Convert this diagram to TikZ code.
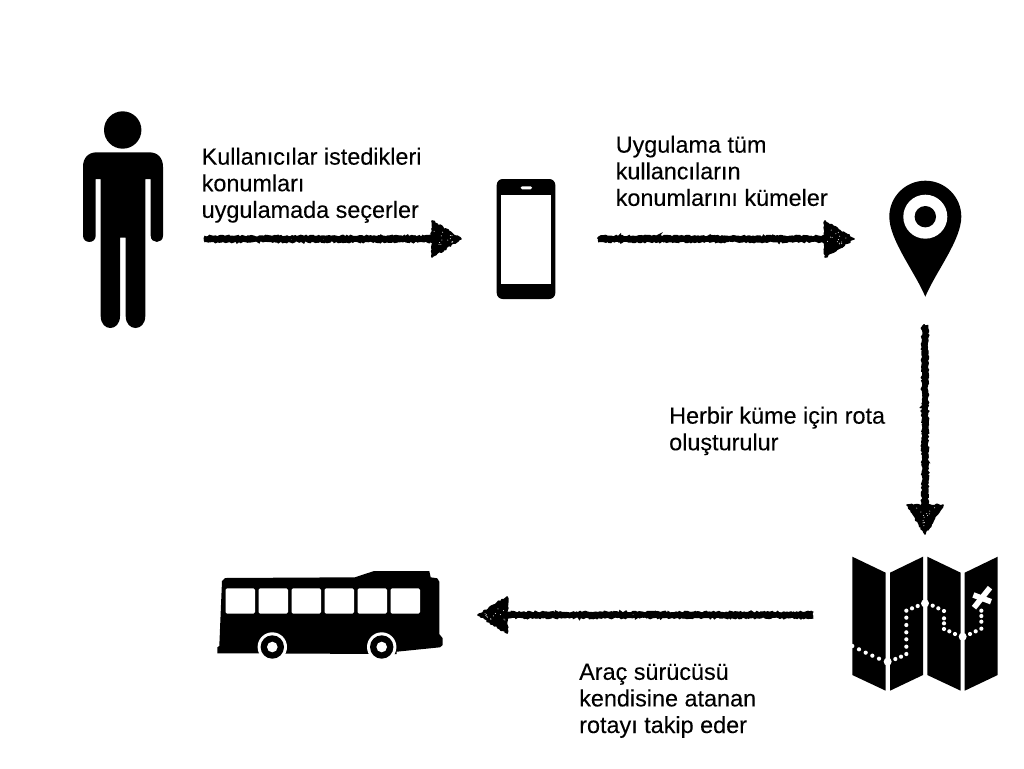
\documentclass[tikz,border=0pt]{standalone}
\usepackage{fontspec}
\setmainfont{Liberation Sans}
\newfontfamily\lblfont[FakeBold=0.12]{Liberation Sans}
\usetikzlibrary{decorations.pathmorphing,calc}
\tikzset{
  lbl/.style={anchor=north west,align=left,inner sep=0pt,font=\lblfont\fontsize{23.4}{26.6}\selectfont},
  icon/.style={fill=black,draw=none},
  hole/.style={fill=white,draw=none},
  shaft/.style={draw=black,line width=3pt,decorate,decoration={random steps,segment length=1.6pt,amplitude=0.9pt}},
  headtip/.style={fill=black,draw=black,line width=1.6pt,line join=round,decorate,decoration={random steps,segment length=2pt,amplitude=1pt}},
  speck/.style={fill=white,draw=none}
}
\newcommand{\chalkarrow}[2]{%
  \foreach \off in {-1.9,0,1.9}{
    \draw[shaft] ($(#1)!\off pt!90:(#2)$) -- ($(#2)!24pt!(#1)!\off pt!90:(#2)$);
  }
  \path[headtip] ($(#2)!30pt!(#1)!-18pt!90:(#2)$) -- ($(#2)!30pt!(#1)!18pt!90:(#2)$) -- ($(#2)!1pt!(#1)$) -- cycle;
  \foreach \i in {1,...,14}{
    \pgfmathsetmacro{\da}{8+rnd*20}
    \pgfmathsetmacro{\db}{(rnd-0.5)*24*(\da/30)}
    \path[speck] ($(#2)!\da pt!(#1)!\db pt!90:(#2)$) circle (0.5pt);
  }
}
\begin{document}
\begin{tikzpicture}[x=1pt,y=-1pt]
\pgfmathsetseed{4242}
\useasboundingbox (0,0) rectangle (1024,768);
\fill[white] (0,0) rectangle (1024,768);

% person
\fill[icon] (122.7,130) circle (18.7);
\path[icon] (97,152.3) -- (149,152.3) .. controls (158,152.3) and (163,158) .. (163,167)
  -- (163,235.7) .. controls (163,244) and (150.7,244) .. (150.7,235.7)
  -- (150.7,179) -- (145.3,179) -- (145.3,316)
  .. controls (145.3,332) and (125.7,332) .. (125.7,316)
  -- (125.7,237.7) -- (120,237.7) -- (120,316)
  .. controls (120,332) and (100.7,332) .. (100.7,316)
  -- (100.7,179) -- (95.7,179) -- (95.7,235.7)
  .. controls (95.7,244) and (83,244) .. (83,235.7)
  -- (83,167) .. controls (83,158) and (88,152.3) .. (97,152.3) -- cycle;

% phone
\fill[icon,rounded corners=6pt] (496.7,179) rectangle (555.3,299);
\fill[hole] (501,195.3) rectangle (551,284.3);
\fill[hole,rounded corners=1.4pt] (520.7,186.3) rectangle (532,189.3);

% pin
\path[icon] (925.3,296.7) .. controls (915,272) and (889.3,240) .. (889.3,216.7)
  arc[start angle=180,end angle=0,radius=36,y radius=-36]
  .. controls (961.3,240) and (935.6,272) .. cycle;
\fill[hole] (925.3,216.7) circle (22);
\fill[icon] (925.3,216.7) circle (10.7);

% map
\path[icon] (852.3,556.7) -- (885.7,572.7) -- (885.7,690.7) -- (852.3,675) -- cycle;
\path[icon] (890,572.7) -- (923,556.7) -- (923,675) -- (890,690.7) -- cycle;
\path[icon] (927.3,556.7) -- (960.7,572.7) -- (960.7,690.7) -- (927.3,675) -- cycle;
\path[icon] (964.7,572.7) -- (997.7,556.7) -- (997.7,675) -- (964.7,690.7) -- cycle;
\foreach \zx/\zy/\r in {67/318/2.1,87/328/2.1,107/338/2.1,127/347/2.1,147/356/2.1,173/365/4,196/357/2.1,213/350/2.1,229/342/2.1,229/320/2.1,229/298/2.1,229/277/2.1,229/255/2.1,229/233/2.1,229/212/2.1,246/205/2.1,263/198/2.1,285/190/4,308/197/2.1,325/205/2.1,342/213/2.1,342/235/2.1,342/250/2.1,342/267/2.1,358/274/2.1,375/282/2.1,398/290/4,420/282/2.1,437/274/2.1,454/266/2.1,454/245/2.1,454/228/2.1,454/212/2.1}{
  \fill[hole] ({830+\zx/3},{540+\zy/3}) circle (\r);
}
\draw[white,line width=5.6pt] ({830+432/3},{540+203/3}) -- ({830+480/3},{540+143/3});
\draw[white,line width=5.6pt] ({830+430/3},{540+165/3}) -- ({830+483/3},{540+185/3});

% bus
\path[icon] (225,578) -- (355,577.3) -- (374,571) -- (429.3,571) -- (430.7,577.3)
  -- (437.3,578.3) -- (439.3,581.7) -- (439.3,634) -- (442.7,638.3) -- (442.7,645)
  -- (440,647.3) -- (396.7,651.7) -- (396.7,654) -- (217.3,653.3) -- (217.3,647.3) -- (219.3,646)
  -- (222,581) -- cycle;
\foreach \xa in {77,176,275,374,473,572}{
  \fill[hole,rounded corners=1.5pt] ({200+\xa/3},588.3) rectangle ({200+(\xa+88)/3},613.7);
}
\foreach \cx in {272.3,381.7}{
  \fill[hole] (\cx,647) circle (14.7);
  \fill[icon] (\cx,647) circle (11.7);
  \fill[hole] (\cx,647) circle (5.3);
}

% connector end points
\coordinate (a1s) at (204,239); \coordinate (a1e) at (462,239);
\coordinate (a2s) at (598,239); \coordinate (a2e) at (855,239);
\coordinate (a3s) at (925,325); \coordinate (a3e) at (925,535);
\coordinate (a4s) at (813,615); \coordinate (a4e) at (477,615);
\chalkarrow{a1s}{a1e}
\chalkarrow{a2s}{a2e}
\chalkarrow{a3s}{a3e}
\chalkarrow{a4s}{a4e}

% labels
\node[lbl] (t1) at (201.5,147.5) {Kullanıcılar istedikleri\\konumları\\uygulamada seçerler};
\node[lbl] (t2) at (615.5,135.5) {Uygulama tüm\\kullancıların\\konumlarını kümeler};
\node[lbl] (t3) at (669,406.5) {Herbir küme için rota\\oluşturulur};
\node[lbl] (t4) at (579,663.5) {Araç sürücüsü\\kendisine atanan\\rotayı takip eder};
\end{tikzpicture}
\end{document}
